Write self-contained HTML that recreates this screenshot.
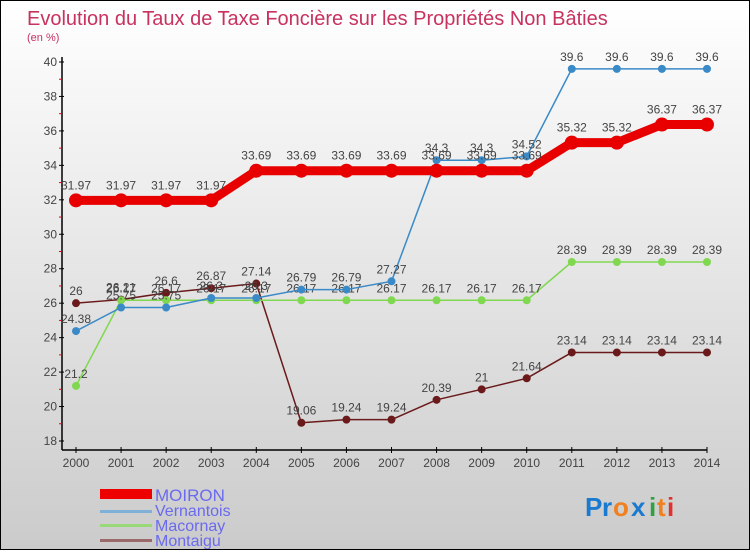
<!DOCTYPE html>
<html><head><meta charset="utf-8"><style>
html,body{margin:0;padding:0}
body{width:750px;height:550px;overflow:hidden;font-family:"Liberation Sans",sans-serif}
#wrap{position:relative;width:748px;height:548px;border:1px solid #000;background:linear-gradient(#ffffff,#cbcbcb)}
</style></head><body>
<div id="wrap">
<svg id="chart" width="748" height="548" xmlns="http://www.w3.org/2000/svg" font-family="Liberation Sans, sans-serif">
<text x="26" y="24" font-size="20" fill="#c8325e">Evolution du Taux de Taxe Foncière sur les Propriétés Non Bâties</text>
<text x="26" y="40" font-size="11" fill="#c8325e">(en %)</text>
<g id="axes"></g>
<g id="series"></g>
<g>
<rect x="99" y="488" width="52" height="10" fill="#e00"/>
<text x="154" y="500" font-size="17" fill="#6a6af0">MOIRON</text>
<rect x="99" y="509" width="52" height="3" fill="#7fb0d8"/>
<text x="154" y="515" font-size="16" fill="#6a6af0">Vernantois</text>
<rect x="99" y="523" width="52" height="3" fill="#98d878"/>
<text x="154" y="530" font-size="16" fill="#6a6af0">Macornay</text>
<rect x="99" y="538" width="52" height="3" fill="#9a6a6a"/>
<text x="154" y="545" font-size="16" fill="#6a6af0">Montaigu</text>
</g>
<g font-size="26" font-weight="bold">
<text x="584" y="515" fill="#1a7ad0">P</text><text x="601" y="515" fill="#1a7ad0">r</text><text x="612" y="515" fill="#f08020">o</text><text x="630" y="515" fill="#1a7ad0">x</text><text x="648" y="515" fill="#30a040">i</text><text x="656" y="515" fill="#f08020">t</text><text x="666" y="515" fill="#e03030">i</text>
</g>
</svg>
</div>
<script>
const years=[2000,2001,2002,2003,2004,2005,2006,2007,2008,2009,2010,2011,2012,2013,2014];
const moiron=[31.97,31.97,31.97,31.97,33.69,33.69,33.69,33.69,33.69,33.69,33.69,35.32,35.32,36.37,36.37];
const vernantois=[24.38,25.75,25.75,26.3,26.3,26.79,26.79,27.27,34.3,34.3,34.52,39.6,39.6,39.6,39.6];
const macornay=[21.2,26.17,26.17,26.17,26.17,26.17,26.17,26.17,26.17,26.17,26.17,28.39,28.39,28.39,28.39];
const montaigu=[26,26.21,26.6,26.87,27.14,19.06,19.24,19.24,20.39,21,21.64,23.14,23.14,23.14,23.14];
const yTicks=[18,20,22,24,26,28,30,32,34,36,38,40];
const NS='http://www.w3.org/2000/svg';
const yMin=18,yMax=40,yTop=61,yBot=440,x0=75,x1=706;
function X(i){return x0+(x1-x0)*i/(years.length-1);}
function Y(v){return yBot-(v-yMin)/(yMax-yMin)*(yBot-yTop);}
function mk(tag,attrs,parent){const e=document.createElementNS(NS,tag);for(const k in attrs)e.setAttribute(k,attrs[k]);parent.appendChild(e);return e;}
const axes=document.getElementById('axes');
let yl=mk('line',{x1:61,y1:56,x2:61,y2:449,stroke:'#000','stroke-width':1.5},axes);


let xl=mk('line',{x1:61,y1:449,x2:706,y2:449,stroke:'#000','stroke-width':1.5},axes);


yTicks.forEach(v=>{
  const y=Y(v);
  mk('line',{x1:58,y1:y,x2:63,y2:y,stroke:'#000'},axes);
  if(v<yMax) mk('line',{x1:58,y1:Y(v+1),x2:61,y2:Y(v+1),stroke:'#e00'},axes);
  const t=mk('text',{x:56,y:y+4,'font-size':12,fill:'#444','text-anchor':'end'},axes);
  t.textContent=v;
  
  
});
years.forEach((yr,i)=>{
  const x=X(i);
  mk('line',{x1:x,y1:446,x2:x,y2:452,stroke:'#000'},axes);
  const t=mk('text',{x:x,y:466,'font-size':12,fill:'#444','text-anchor':'middle'},axes);
  t.textContent=yr;
  
  
});
const sg=document.getElementById('series');
function series(data,color,lw,r,name){
  const g=mk('g',{},sg);
  
  
  mk('polyline',{points:data.map((v,i)=>X(i)+','+Y(v)).join(' '),fill:'none',stroke:color,'stroke-width':lw,'stroke-linejoin':'round'},g);
  data.forEach((v,i)=>{
    const c=mk('circle',{cx:X(i),cy:Y(v),r:r,fill:color},g);
    
    
    const t=mk('text',{x:X(i),y:Y(v)-r-4,'font-size':12,fill:'#444','text-anchor':'middle'},g);
    t.textContent=v;
    
    
  });
}
series(montaigu,'#6a1a1a',1.5,4,'montaigu');
series(macornay,'#80d850',1.5,4,'macornay');
series(vernantois,'#3a8ac8',1.5,4,'vernantois');
series(moiron,'#e80000',9,7,'moiron');
</script>
</body></html>
